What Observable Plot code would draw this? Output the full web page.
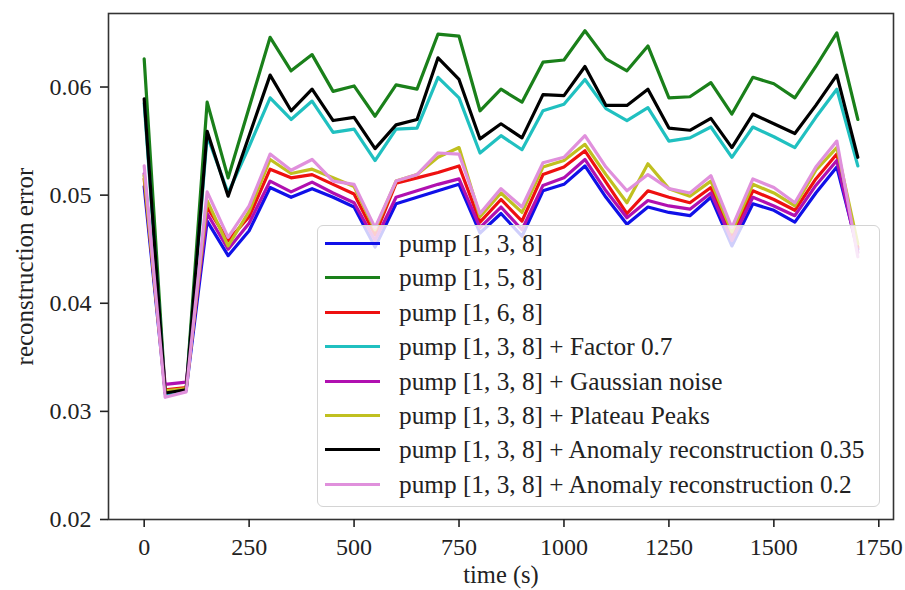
<!DOCTYPE html>
<html>
<head>
<meta charset="utf-8">
<script src="https://cdn.jsdelivr.net/npm/d3@7"></script>
<script src="https://cdn.jsdelivr.net/npm/@observablehq/plot@0.6"></script>
<style>
  body { margin: 0; background: #fff; }
  #wrap { position: relative; width: 905px; height: 590px; font-family: "Liberation Serif", "DejaVu Serif", serif; color: #222; }
  #legend { position: absolute; left: 317px; top: 225px; width: 563px; height: 282px; box-sizing: border-box;
            background: rgba(255,255,255,0.8); border: 1.5px solid #d4d4d4; border-radius: 6px; }
  .row { position: absolute; left: 0; height: 34px; display: flex; align-items: center; font-size: 25.3px; white-space: nowrap; }
  .sw { display: inline-block; width: 55px; height: 3px; margin-left: 7px; margin-right: 19px; }
</style>
</head>
<body>
<div id="wrap"></div>
<script>
const times = d3.range(0, 1701, 50);

const seriesNames = [
  "pump [1, 3, 8]",
  "pump [1, 5, 8]",
  "pump [1, 6, 8]",
  "pump [1, 3, 8] + Factor 0.7",
  "pump [1, 3, 8] + Gaussian noise",
  "pump [1, 3, 8] + Plateau Peaks",
  "pump [1, 3, 8] + Anomaly reconstruction 0.35",
  "pump [1, 3, 8] + Anomaly reconstruction 0.2"
];
const seriesColors = ["#1010e8", "#1a801a", "#ee1010", "#20c0c0", "#b010b0", "#c0c020", "#000000", "#e090dc"];

const blue = [0.0508, 0.0318, 0.0320, 0.0476, 0.0444, 0.0467, 0.0507, 0.0498, 0.0506, 0.0498, 0.0489, 0.0452, 0.0492, 0.0498, 0.0504, 0.0510, 0.0465, 0.0483, 0.0462, 0.0504, 0.0510, 0.0527, 0.0498, 0.0473, 0.0489, 0.0484, 0.0481, 0.0498, 0.0453, 0.0492, 0.0486, 0.0475, 0.0502, 0.0526, 0.0450];
const green = [0.0626, 0.0318, 0.0320, 0.0586, 0.0516, 0.0581, 0.0646, 0.0615, 0.0630, 0.0596, 0.0601, 0.0573, 0.0602, 0.0598, 0.0649, 0.0647, 0.0578, 0.0598, 0.0586, 0.0623, 0.0625, 0.0652, 0.0626, 0.0615, 0.0638, 0.0590, 0.0591, 0.0604, 0.0575, 0.0609, 0.0603, 0.0590, 0.0619, 0.0650, 0.0570];
const red = [0.0515, 0.0320, 0.0322, 0.0489, 0.0458, 0.0480, 0.0524, 0.0516, 0.0519, 0.0510, 0.0501, 0.0463, 0.0511, 0.0516, 0.0521, 0.0527, 0.0475, 0.0496, 0.0476, 0.0519, 0.0526, 0.0541, 0.0512, 0.0483, 0.0504, 0.0498, 0.0493, 0.0507, 0.0462, 0.0504, 0.0496, 0.0486, 0.0515, 0.0538, 0.0452];
const cyan = [0.0585, 0.0316, 0.0319, 0.0555, 0.0502, 0.0545, 0.0590, 0.0570, 0.0587, 0.0558, 0.0561, 0.0532, 0.0561, 0.0562, 0.0609, 0.0590, 0.0539, 0.0555, 0.0542, 0.0578, 0.0584, 0.0607, 0.0580, 0.0569, 0.0581, 0.0550, 0.0553, 0.0563, 0.0535, 0.0563, 0.0554, 0.0544, 0.0572, 0.0598, 0.0527];
const magenta = [0.0520, 0.0325, 0.0327, 0.0483, 0.0450, 0.0474, 0.0513, 0.0503, 0.0512, 0.0502, 0.0493, 0.0458, 0.0498, 0.0504, 0.0510, 0.0515, 0.0470, 0.0489, 0.0468, 0.0509, 0.0516, 0.0533, 0.0504, 0.0479, 0.0495, 0.0490, 0.0487, 0.0502, 0.0458, 0.0498, 0.0490, 0.0481, 0.0509, 0.0532, 0.0447];
const yellow = [0.0518, 0.0319, 0.0321, 0.0495, 0.0453, 0.0485, 0.0533, 0.0520, 0.0524, 0.0516, 0.0508, 0.0468, 0.0513, 0.0519, 0.0535, 0.0544, 0.0480, 0.0502, 0.0484, 0.0526, 0.0532, 0.0547, 0.0519, 0.0493, 0.0529, 0.0506, 0.0499, 0.0513, 0.0466, 0.0510, 0.0502, 0.0490, 0.0523, 0.0544, 0.0455];
const black = [0.0589, 0.0317, 0.0320, 0.0559, 0.0499, 0.0555, 0.0611, 0.0578, 0.0598, 0.0569, 0.0572, 0.0543, 0.0565, 0.0570, 0.0627, 0.0607, 0.0552, 0.0566, 0.0553, 0.0593, 0.0592, 0.0619, 0.0583, 0.0583, 0.0598, 0.0562, 0.0560, 0.0571, 0.0544, 0.0575, 0.0566, 0.0557, 0.0583, 0.0611, 0.0535];
const pink = [0.0527, 0.0313, 0.0318, 0.0503, 0.0461, 0.0490, 0.0538, 0.0523, 0.0533, 0.0513, 0.0510, 0.0470, 0.0513, 0.0519, 0.0539, 0.0538, 0.0483, 0.0506, 0.0489, 0.0530, 0.0535, 0.0555, 0.0526, 0.0504, 0.0519, 0.0506, 0.0502, 0.0518, 0.0470, 0.0515, 0.0507, 0.0493, 0.0526, 0.0550, 0.0443];

const seriesValues = [blue, green, red, cyan, magenta, yellow, black, pink];

const xTicks = [0, 250, 500, 750, 1000, 1250, 1500, 1750];
const yTicks = [0.02, 0.03, 0.04, 0.05, 0.06];

const data = [];
seriesNames.forEach((name, i) => {
  seriesValues[i].forEach((v, j) => data.push({series: name, t: times[j], v}));
});

const chart = Plot.plot({
  width: 905,
  height: 590,
  marginLeft: 108,
  marginRight: 12,
  marginTop: 13,
  marginBottom: 71,
  style: {fontFamily: '"Liberation Serif", "DejaVu Serif", serif', fontSize: "24px", color: "#222", background: "#fff"},
  x: {domain: [-85, 1785]},
  y: {domain: [0.02, 0.0668]},
  color: {domain: seriesNames, range: seriesColors},
  marks: [
    Plot.line(data, {x: "t", y: "v", z: "series", stroke: "series", strokeWidth: 3.2, strokeLinejoin: "round"}),
    Plot.frame({stroke: "#333", strokeWidth: 1.6}),
    Plot.axisX({ticks: xTicks, tickSize: 8, tickPadding: 10, tickFormat: d => String(d), label: null, strokeWidth: 1.6}),
    Plot.axisY({ticks: yTicks, tickSize: 8, tickPadding: 9, tickFormat: d => d.toFixed(2), label: null, strokeWidth: 1.6}),
    Plot.text(["time (s)"], {frameAnchor: "bottom", dy: 63, fontSize: 24.5, fill: "#222"}),
    Plot.text(["reconstruction error"], {frameAnchor: "left", textAnchor: "middle", dx: -84, rotate: -90, fontSize: 25, fill: "#222"})
  ]
});

const wrap = document.getElementById("wrap");
wrap.appendChild(chart);

const legend = document.createElement("div");
legend.id = "legend";
seriesNames.forEach((name, i) => {
  const row = document.createElement("div");
  row.className = "row";
  row.style.top = (19 + i * 34.4 - 17 - 1.5) + "px";
  const sw = document.createElement("span");
  sw.className = "sw";
  sw.style.background = seriesColors[i];
  const label = document.createElement("span");
  label.textContent = name;
  row.appendChild(sw);
  row.appendChild(label);
  legend.appendChild(row);
});
wrap.appendChild(legend);
</script>
</body>
</html>
